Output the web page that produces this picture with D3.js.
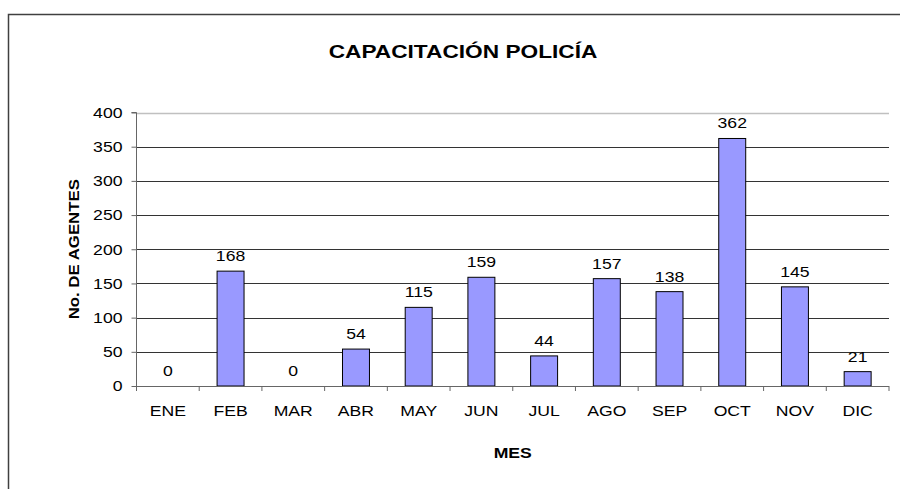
<!DOCTYPE html>
<html>
<head>
<meta charset="utf-8">
<script src="https://cdn.jsdelivr.net/npm/d3@7"></script>
<style>
  html, body { margin: 0; padding: 0; background: #fff; }
  svg { display: block; font-family: "Liberation Sans", Arial, sans-serif; }
</style>
</head>
<body>
<svg id="chart" width="900" height="489"></svg>
<script>
// Monthly police training figures
const months = ["ENE", "FEB", "MAR", "ABR", "MAY", "JUN", "JUL", "AGO", "SEP", "OCT", "NOV", "DIC"];
const agents = [0, 168, 0, 54, 115, 159, 44, 157, 138, 362, 145, 21];
const yTicks = [0, 50, 100, 150, 200, 250, 300, 350, 400];

const svg = d3.select("#chart");
const W = 900, H = 489;
const WIDE = 1.26; // wide glyph rendering

// Place a text at (x, y), widened along its own baseline
function wideText(g, x, y, str, opts = {}) {
  const rot = opts.rotate ? ` rotate(${opts.rotate})` : "";
  return g.append("text")
    .attr("transform", `translate(${x},${y})${rot} scale(${opts.sx || WIDE},1)`)
    .attr("text-anchor", opts.anchor || "middle")
    .attr("font-size", opts.size || 14)
    .attr("font-weight", opts.weight || "normal")
    .attr("fill", "#000")
    .text(str);
}

// Outer chart frame (runs past the right and bottom edges)
svg.append("rect")
  .attr("x", 8.5).attr("y", 14.5)
  .attr("width", W + 10).attr("height", H + 10)
  .attr("fill", "#fff").attr("stroke", "#404040").attr("stroke-width", 1.5);

const plot = { left: 136.5, right: 889, top: 112.5, bottom: 386 };

const x = d3.scaleBand().domain(months).range([plot.left, plot.right]).paddingInner(0).paddingOuter(0);
const y = d3.scaleLinear().domain([0, 400]).range([plot.bottom, plot.top]);

// Gridlines
svg.append("g").selectAll("line")
  .data(yTicks.filter(t => t > 0 && t < 400))
  .join("line")
  .attr("x1", plot.left).attr("x2", plot.right)
  .attr("y1", d => Math.round(y(d)) + 0.5).attr("y2", d => Math.round(y(d)) + 0.5)
  .attr("stroke", "#333").attr("stroke-width", 1);

// Plot area top edge
svg.append("line")
  .attr("x1", plot.left).attr("x2", plot.right)
  .attr("y1", Math.round(y(400)) + 0.5).attr("y2", Math.round(y(400)) + 0.5)
  .attr("stroke", "#c0c0c0").attr("stroke-width", 1.5);

const rows = months.map((m, i) => ({ m, v: agents[i] }));

// Bars
svg.append("g").selectAll("rect")
  .data(rows)
  .join("rect")
  .attr("x", d => x(d.m) + x.bandwidth() * 0.285)
  .attr("width", x.bandwidth() * 0.43)
  .attr("y", d => y(d.v))
  .attr("height", d => y(0) - y(d.v))
  .attr("fill", "#9999ff").attr("stroke", "#000").attr("stroke-width", 1);

// Value labels
const gv = svg.append("g");
rows.forEach(d => wideText(gv, x(d.m) + x.bandwidth() / 2, y(d.v) - 10, d.v));

// Y axis
const yAxis = d3.axisLeft(y).tickValues(yTicks).tickSize(5).tickPadding(6);
const gy = svg.append("g").attr("transform", `translate(${plot.left},0)`).call(yAxis);
gy.select(".domain").attr("stroke", "#666").attr("d", `M-5,${plot.top}H0V${plot.bottom}`);
gy.selectAll(".tick line").attr("stroke", "#666");
gy.selectAll(".tick text")
  .attr("x", null).attr("dy", "0.35em")
  .attr("transform", `translate(-14,0) scale(${WIDE},1)`)
  .attr("font-size", 14).attr("fill", "#000")
  .attr("font-family", "Liberation Sans, Arial, sans-serif");

// X axis with ticks on category boundaries
const gx = svg.append("g").attr("transform", `translate(0,${plot.bottom})`);
gx.append("line").attr("x1", plot.left).attr("x2", plot.right)
  .attr("y1", 0.5).attr("y2", 0.5).attr("stroke", "#666");
gx.selectAll("line.tk")
  .data(months.map(m => x(m)).concat([plot.right]))
  .join("line").attr("class", "tk")
  .attr("x1", d => d).attr("x2", d => d)
  .attr("y1", 0).attr("y2", 5).attr("stroke", "#666");
months.forEach(m => wideText(gx, x(m) + x.bandwidth() / 2, 30, m));

// Titles
wideText(svg, 463, 58, "CAPACITACIÓN POLICÍA", { size: 18, weight: "bold" });
wideText(svg, 79, (plot.top + plot.bottom) / 2, "No. DE AGENTES", { size: 14, weight: "bold", rotate: -90, sx: 1.2 });
wideText(svg, (plot.left + plot.right) / 2, 458, "MES", { size: 14, weight: "bold" });
</script>
</body>
</html>
